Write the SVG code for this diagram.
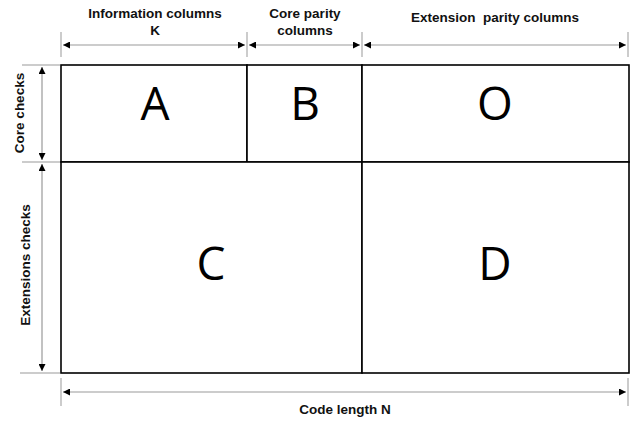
<svg xmlns="http://www.w3.org/2000/svg" width="633" height="422" viewBox="0 0 633 422">
<defs>
<marker id="ah" viewBox="0 0 10 10" refX="10" refY="5" markerWidth="7" markerHeight="7" markerUnits="userSpaceOnUse" orient="auto-start-reverse">
<path d="M0,0 L10,5 L0,10 z" fill="#000"/>
</marker>
</defs>
<style>
.lbl{font-family:"Liberation Sans",Arial,sans-serif;font-weight:bold;font-size:13.5px;fill:#111;text-anchor:middle}
.big{font-family:"Open Sans","Liberation Sans",sans-serif;font-size:46px;fill:#000;text-anchor:middle}
.cell{fill:#fff;stroke:#000;stroke-width:1.6}
.tick{stroke:#999;stroke-width:1}
.dim{stroke:#999;stroke-width:1.2;marker-start:url(#ah);marker-end:url(#ah)}
</style>
<rect width="633" height="422" fill="#fff"/>
<g id="connectors">
<line class="tick" x1="61" y1="32" x2="61" y2="57"/>
<line class="tick" x1="247" y1="32" x2="247" y2="57"/>
<line class="tick" x1="362" y1="32" x2="362" y2="57"/>
<line class="tick" x1="628" y1="32" x2="628" y2="57"/>
<line class="dim" x1="63" y1="45" x2="245" y2="45"/>
<line class="dim" x1="249" y1="45" x2="360" y2="45"/>
<line class="dim" x1="364" y1="45" x2="626" y2="45"/>
<line class="tick" x1="22" y1="65" x2="60" y2="65"/>
<line class="tick" x1="22" y1="162" x2="60" y2="162"/>
<line class="tick" x1="20" y1="373" x2="60" y2="373"/>
<line class="dim" x1="42" y1="67" x2="42" y2="160"/>
<line class="dim" x1="42" y1="164" x2="42" y2="371"/>
<line class="tick" x1="61" y1="378" x2="61" y2="406"/>
<line class="tick" x1="628" y1="378" x2="628" y2="406"/>
<line class="dim" x1="63" y1="392" x2="626" y2="392"/>
</g>
<g id="A"><rect class="cell" x="61" y="65" width="186" height="97"/><text class="big" x="155" y="120">A</text></g>
<g id="B"><rect class="cell" x="247" y="65" width="115" height="97"/><text class="big" x="305" y="120">B</text></g>
<g id="O"><rect class="cell" x="362" y="65" width="267" height="97"/><text class="big" x="495" y="120">O</text></g>
<g id="C"><rect class="cell" x="61" y="162" width="301" height="211"/><text class="big" x="211" y="280">C</text></g>
<g id="D"><rect class="cell" x="362" y="162" width="267" height="211"/><text class="big" x="495" y="280">D</text></g>
<g id="labels">
<text class="lbl" x="155" y="18">Information columns</text>
<text class="lbl" x="155" y="35">K</text>
<text class="lbl" x="305" y="18">Core parity</text>
<text class="lbl" x="305" y="35">columns</text>
<text class="lbl" x="495" y="22" xml:space="preserve">Extension  parity columns</text>
<text class="lbl" x="345" y="414">Code length N</text>
<text class="lbl" transform="translate(24,113) rotate(-90)">Core checks</text>
<text class="lbl" transform="translate(30,265) rotate(-90)">Extensions checks</text>
</g>
</svg>
